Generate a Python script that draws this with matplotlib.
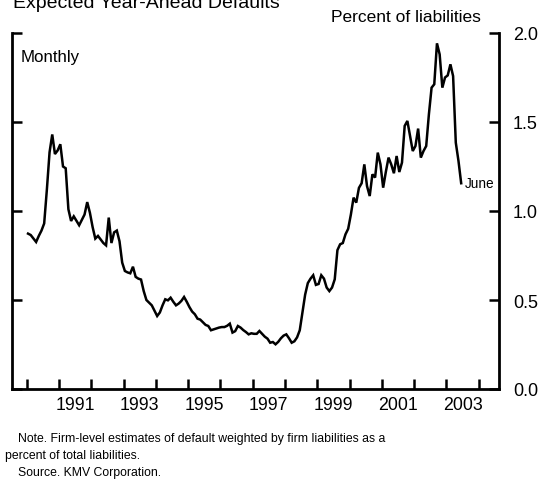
import matplotlib
matplotlib.use("Agg")
import matplotlib.pyplot as plt
import numpy as np

plt.rcParams["font.family"] = ["Liberation Sans", "DejaVu Sans"]

# Monthly expected year-ahead defaults, Jan 1990 - Jun 2003 (percent of liabilities)
start_year = 1990
defaults = [
    0.873, 0.865, 0.845, 0.826, 0.86, 0.89, 0.93, 1.12, 1.33, 1.43, 1.32, 1.34,
    1.375, 1.25, 1.24, 1.01, 0.944, 0.97, 0.945, 0.92, 0.95, 0.98, 1.05, 0.99,
    0.91, 0.845, 0.86, 0.84, 0.82, 0.807, 0.963, 0.82, 0.88, 0.89, 0.83, 0.71,
    0.663, 0.655, 0.65, 0.687, 0.63, 0.62, 0.615, 0.55, 0.50, 0.485, 0.47, 0.44,
    0.41, 0.43, 0.47, 0.504, 0.498, 0.513, 0.49, 0.47, 0.48, 0.495, 0.517, 0.49,
    0.46, 0.435, 0.42, 0.395, 0.39, 0.375, 0.36, 0.354, 0.33, 0.335, 0.34, 0.345,
    0.348, 0.348, 0.355, 0.367, 0.317, 0.325, 0.354, 0.345, 0.331, 0.32, 0.307, 0.313,
    0.31, 0.31, 0.326, 0.31, 0.294, 0.283, 0.26, 0.264, 0.251, 0.265, 0.285, 0.30,
    0.307, 0.285, 0.26, 0.268, 0.29, 0.33, 0.43, 0.53, 0.595, 0.62, 0.639, 0.585,
    0.59, 0.639, 0.62, 0.57, 0.55, 0.57, 0.616, 0.78, 0.813, 0.82, 0.869, 0.90,
    0.98, 1.075, 1.047, 1.13, 1.156, 1.262, 1.14, 1.084, 1.206, 1.188, 1.328, 1.262,
    1.131, 1.22, 1.30, 1.262, 1.212, 1.309, 1.219, 1.272, 1.478, 1.506, 1.421, 1.337,
    1.365, 1.463, 1.30, 1.337, 1.365, 1.543, 1.693, 1.712, 1.942, 1.88, 1.693, 1.75,
    1.762, 1.824, 1.758, 1.384, 1.281, 1.156,
]
year_ticks = list(range(1990, 2005))
year_labels = ["1991", "1993", "1995", "1997", "1999", "2001", "2003"]
y_ticks = [0.0, 0.5, 1.0, 1.5, 2.0]

t = start_year + (np.arange(len(defaults)) + 0.5) / 12.0

fig = plt.figure(figsize=(5.44, 4.81), dpi=100)
ax = fig.add_axes([12 / 544, 1 - 390 / 481, (499 - 12) / 544, (390 - 34) / 481])

ax.plot(t, defaults, color="black", linewidth=1.8, solid_joinstyle="miter")
ax.set_xlim(1989.545, 2004.63)
ax.set_ylim(0, 2.0)

for side in ("left", "right", "bottom"):
    ax.spines[side].set_linewidth(2.0)
ax.spines["top"].set_visible(False)

ax.set_yticks(y_ticks)
ax.set_yticklabels([f"{v:.1f}" for v in y_ticks])
ax.tick_params(axis="y", which="major", direction="in", left=True, right=True,
               labelleft=False, labelright=True, length=7, width=1.8,
               pad=10, labelsize=13)

ax.set_xticks(year_ticks)
ax.set_xticklabels([])
ax.set_xticks([int(y) + 0.5 for y in year_labels], minor=True)
ax.set_xticklabels(year_labels, minor=True)
ax.tick_params(axis="x", which="major", direction="in", length=7, width=1.8)
ax.tick_params(axis="x", which="minor", length=0, pad=5, labelsize=12.8)

ax.text(1989.8, 1.87, "Monthly", fontsize=12.2, ha="left", va="center")
ax.text(t[-1] + 0.12, defaults[-1], "June", fontsize=9.8, ha="left", va="center")

fig.text(13 / 544, 1 - 8 / 481, "Expected Year-Ahead Defaults", fontsize=14,
         ha="left", va="baseline")
fig.text(481 / 544, 1 - 22 / 481, "Percent of liabilities", fontsize=12.5,
         ha="right", va="baseline")

fig.text(18 / 544, 1 - 442 / 481,
         "Note. Firm-level estimates of default weighted by firm liabilities as a",
         fontsize=8.85, ha="left", va="baseline")
fig.text(5 / 544, 1 - 459 / 481, "percent of total liabilities.",
         fontsize=8.85, ha="left", va="baseline")
fig.text(18 / 544, 1 - 476 / 481, "Source. KMV Corporation.",
         fontsize=8.85, ha="left", va="baseline")

fig.savefig("out.png", dpi=100)
